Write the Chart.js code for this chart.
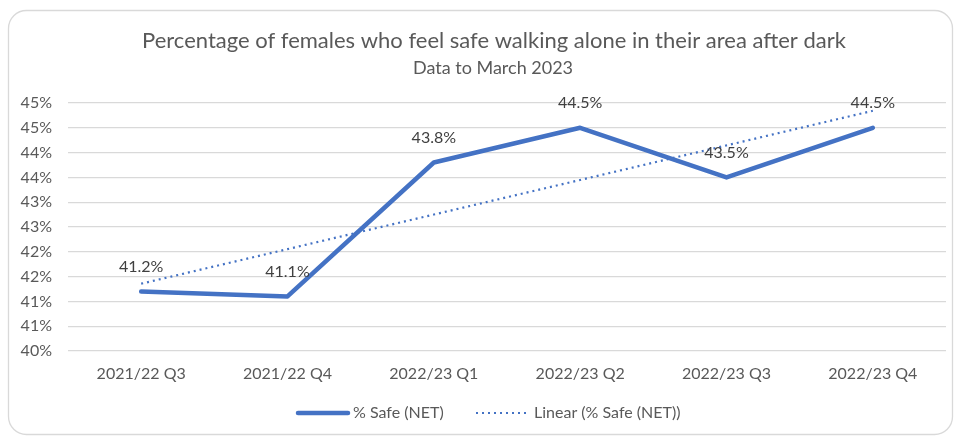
<!DOCTYPE html>
<html>
<head>
<meta charset="utf-8">
<script src="https://cdn.jsdelivr.net/npm/chart.js@4.4.0/dist/chart.umd.min.js"></script>
<style>
  html, body { margin: 0; padding: 0; background: #ffffff; }
  #wrap { width: 960px; height: 438px; position: relative; }
</style>
</head>
<body>
<div id="wrap"><canvas id="c" width="960" height="438"></canvas></div>
<script>
const titleText = 'Percentage of females who feel safe walking alone in their area after dark';
const subtitleText = 'Data to March 2023';
const categories = ['2021/22 Q3', '2021/22 Q4', '2022/23 Q1', '2022/23 Q2', '2022/23 Q3', '2022/23 Q4'];
const safeNet = [41.2, 41.1, 43.8, 44.5, 43.5, 44.5];
const yTickLabels = ['40%', '41%', '41%', '42%', '42%', '43%', '43%', '44%', '44%', '45%', '45%'];
const seriesName = '% Safe (NET)';
const trendName = 'Linear (% Safe (NET))';

// Linear trendline (least squares) of the series, as Excel computes it
function linearTrend(vals) {
  const n = vals.length;
  let sx = 0, sy = 0, sxy = 0, sxx = 0;
  vals.forEach((v, i) => { const x = i + 1; sx += x; sy += v; sxy += x * v; sxx += x * x; });
  const slope = (n * sxy - sx * sy) / (n * sxx - sx * sx);
  const icpt = (sy - slope * sx) / n;
  return vals.map((v, i) => icpt + slope * (i + 1));
}
const trend = linearTrend(safeNet);

const FONT = 'Lato, "Open Sans", sans-serif';
const BLUE = '#4472C4';

const framePlugin = {
  id: 'frame',
  beforeDraw(chart) {
    const ctx = chart.ctx;
    ctx.save();
    ctx.fillStyle = '#ffffff';
    ctx.fillRect(0, 0, chart.width, chart.height);
    ctx.strokeStyle = '#d9d9d9';
    ctx.lineWidth = 1.3;
    ctx.beginPath();
    ctx.roundRect(8.5, 10.5, 944, 424, 18);
    ctx.stroke();
    // titles
    ctx.fillStyle = '#595959';
    ctx.textAlign = 'center';
    ctx.textBaseline = 'middle';
    ctx.font = '22px ' + FONT;
    ctx.fillText(titleText, 494, 41);
    ctx.font = '18px ' + FONT;
    ctx.fillText(subtitleText, 493, 68);
    ctx.restore();
  },
  afterDraw(chart) {
    const ctx = chart.ctx;
    ctx.save();
    // data labels
    const meta = chart.getDatasetMeta(0);
    ctx.fillStyle = '#404040';
    ctx.font = '16px ' + FONT;
    ctx.textAlign = 'center';
    ctx.textBaseline = 'middle';
    meta.data.forEach((pt, i) => {
      ctx.fillText(safeNet[i].toFixed(1) + '%', pt.x, pt.y - 25);
    });
    // legend
    const ly = 413;
    ctx.strokeStyle = BLUE;
    ctx.lineCap = 'round';
    ctx.lineWidth = 4.5;
    ctx.beginPath(); ctx.moveTo(298, ly); ctx.lineTo(348, ly); ctx.stroke();
    ctx.lineCap = 'butt';
    ctx.lineWidth = 2.2;
    ctx.setLineDash([2, 4]);
    ctx.beginPath(); ctx.moveTo(476, ly); ctx.lineTo(526, ly); ctx.stroke();
    ctx.setLineDash([]);
    ctx.fillStyle = '#595959';
    ctx.font = '16px ' + FONT;
    ctx.textAlign = 'left';
    ctx.fillText(chart.data.datasets[0].label, 353, ly);
    ctx.fillText(chart.data.datasets[1].label, 534, ly);
    ctx.restore();
  }
};

new Chart(document.getElementById('c'), {
  type: 'line',
  data: {
    labels: categories,
    datasets: [
      {
        label: seriesName,
        data: safeNet,
        borderColor: BLUE,
        backgroundColor: BLUE,
        borderWidth: 4.5,
        borderCapStyle: 'round',
        borderJoinStyle: 'round',
        pointRadius: 0,
        pointHoverRadius: 0,
        tension: 0,
        order: 1
      },
      {
        label: trendName,
        data: trend,
        borderColor: BLUE,
        backgroundColor: BLUE,
        borderWidth: 2.2,
        borderDash: [2, 4],
        pointRadius: 0,
        pointHoverRadius: 0,
        tension: 0,
        order: 2
      }
    ]
  },
  options: {
    responsive: false,
    animation: false,
    devicePixelRatio: 1,
    layout: { padding: { top: 103, right: 14, bottom: 47, left: 0 } },
    plugins: {
      legend: { display: false },
      title: { display: false },
      tooltip: { enabled: false }
    },
    scales: {
      x: {
        type: 'category',
        offset: true,
        grid: { display: false, drawTicks: false },
        border: { display: false },
        ticks: { color: '#595959', font: { family: FONT, size: 16 }, padding: 13, maxRotation: 0, autoSkip: false },
        afterFit(scale) { scale.height = 40; }
      },
      y: {
        min: 40,
        max: 45,
        grid: { color: '#d9d9d9', lineWidth: 1.3, drawTicks: false },
        border: { display: false },
        ticks: {
          stepSize: 0.5,
          color: '#595959',
          font: { family: FONT, size: 16 },
          padding: 16,
          callback(value, index) { return yTickLabels[index]; }
        },
        afterFit(scale) { scale.width = 68; }
      }
    }
  },
  plugins: [framePlugin]
});
</script>
</body>
</html>
